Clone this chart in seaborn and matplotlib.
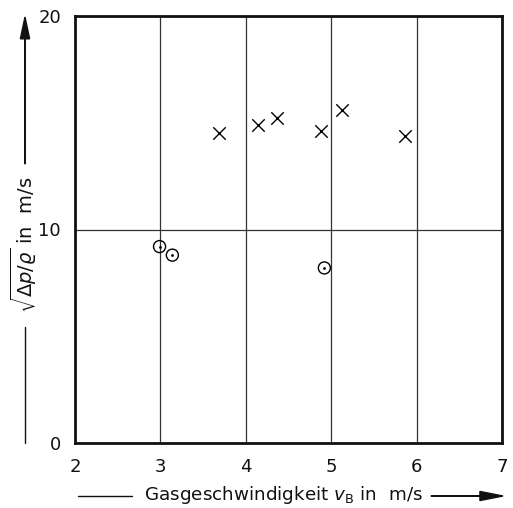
import matplotlib
matplotlib.use("Agg")
import matplotlib.pyplot as plt
import seaborn as sns
import pandas as pd
from matplotlib.lines import Line2D
from matplotlib.patches import FancyArrow

# data
cross_x = [3.69, 4.14, 4.37, 4.88, 5.13, 5.87]
cross_y = [14.5, 14.9, 15.2, 14.6, 15.6, 14.4]
circle_x = [2.99, 3.14, 4.92]
circle_y = [9.2, 8.8, 8.2]
x_ticks = [2, 3, 4, 5, 6, 7]
y_ticks = [0, 10, 20]

sns.set_style("white")
plt.rcParams["font.family"] = ["DejaVu Sans"]
plt.rcParams["mathtext.fontset"] = "dejavusans"

W, H = 513, 508
fig = plt.figure(figsize=(W / 100, H / 100), dpi=100)
ax = fig.add_axes([75 / W, (H - 443) / H, (502 - 75) / W, (443 - 16) / H])

crosses = pd.DataFrame({"x": cross_x, "y": cross_y})
circles = pd.DataFrame({"x": circle_x, "y": circle_y})

sns.scatterplot(data=crosses, x="x", y="y", ax=ax, marker="x", color="black",
                s=80, linewidth=1.0, zorder=5)
sns.scatterplot(data=circles, x="x", y="y", ax=ax, marker="o", facecolor="none",
                edgecolor="black", s=75, linewidth=1.0, zorder=5)
sns.scatterplot(data=circles, x="x", y="y", ax=ax, marker="o", color="black",
                s=4, linewidth=0, zorder=6)

ax.set_xlim(2, 7)
ax.set_ylim(0, 20)
ax.set_xticks(x_ticks)
ax.set_yticks(y_ticks)
ax.set_xticklabels([str(v) for v in x_ticks])
ax.set_yticklabels([str(v) for v in y_ticks])
ax.tick_params(axis="both", length=0, labelsize=13, colors="#111111")
ax.tick_params(axis="x", pad=11)
ax.tick_params(axis="y", pad=10)
ax.grid(True, color="#333333", linewidth=0.9)
ax.set_xlabel("")
ax.set_ylabel("")
for sp in ax.spines.values():
    sp.set_visible(True)
    sp.set_linewidth(2.0)
    sp.set_color("#111111")

def px(x, y):
    return x / W, (H - y) / H

# x label with arrow line
fig.text(*px(283, 500), r"Gasgeschwindigkeit $\mathit{v}_{\mathrm{B}}$ in  m/s",
         ha="center", va="baseline", fontsize=13.2, color="#111111")
x0, y0 = px(78, 496)
x1, _ = px(132, 496)
fig.add_artist(Line2D([x0, x1], [y0, y0], color="#111111", linewidth=1.0))
xa, _ = px(431, 496)
xb, _ = px(503, 496)
fig.add_artist(FancyArrow(xa, y0, xb - xa, 0, width=0.0001, head_width=0.018,
                          head_length=0.045, length_includes_head=True,
                          color="#111111", transform=fig.transFigure))

# y label with arrow line
fig.text(*px(24, 245), r"$\sqrt{\Delta p/\varrho}$ in  m/s", rotation=90,
         ha="center", va="center", fontsize=14, color="#111111")
lx, ly0 = px(25, 443)
_, ly1 = px(25, 327)
fig.add_artist(Line2D([lx, lx], [ly0, ly1], color="#111111", linewidth=1.0))
_, ya = px(25, 164)
_, yb = px(25, 17)
fig.add_artist(FancyArrow(lx, ya, 0, yb - ya, width=0.0001, head_width=0.018,
                          head_length=0.043, length_includes_head=True,
                          color="#111111", transform=fig.transFigure))

fig.savefig("out.png", dpi=100, facecolor="white")
